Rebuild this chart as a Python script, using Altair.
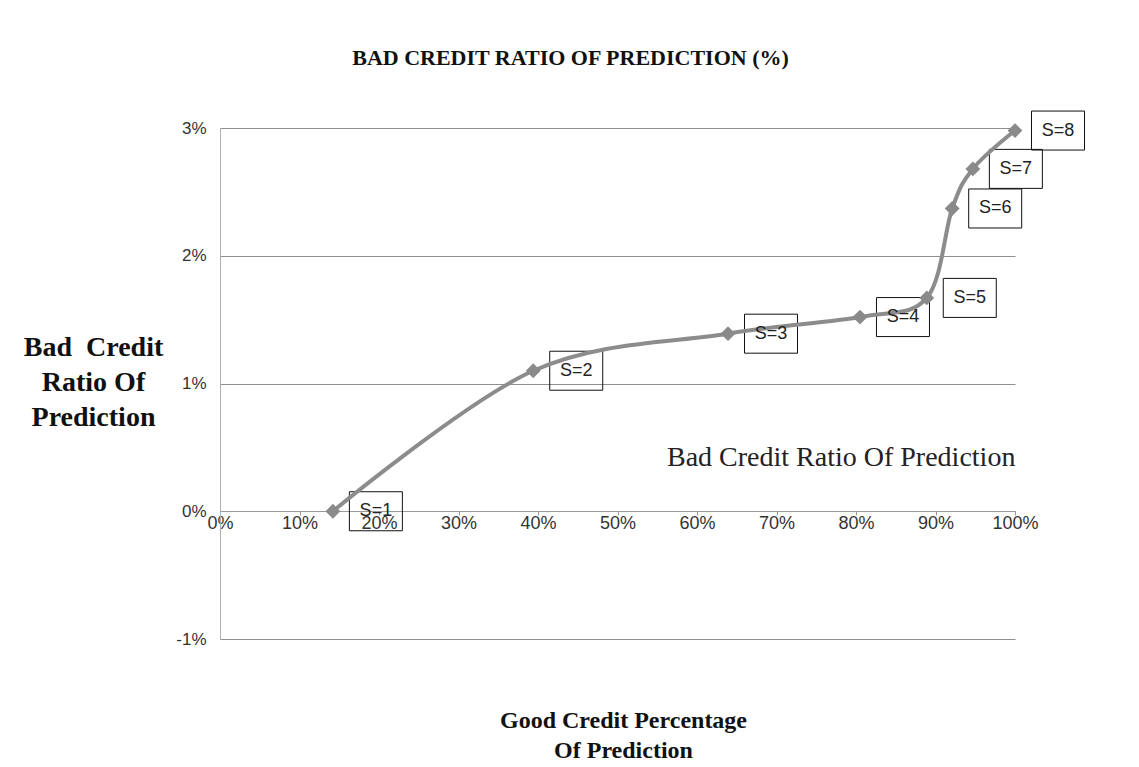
import altair as alt
import pandas as pd

# Data
labels = ["S=1", "S=2", "S=3", "S=4", "S=5", "S=6", "S=7", "S=8"]
good_pct = [0.142, 0.394, 0.639, 0.805, 0.889, 0.921, 0.947, 1.0]
bad_ratio = [0.0, 0.0110, 0.0139, 0.0152, 0.0167, 0.0237, 0.0268, 0.0298]
series_name = "Bad Credit Ratio Of Prediction"

df = pd.DataFrame({
    "label": labels,
    "good": good_pct,
    "bad": bad_ratio,
    "series": [series_name] * len(labels),
})

W, H = 795, 511
serif = "Liberation Serif"
sans = "Liberation Sans"

x_scale = alt.Scale(domain=[0, 1], nice=False)
y_scale = alt.Scale(domain=[-0.01, 0.03], nice=False)

x_axis = alt.Axis(
    values=[i / 10 for i in range(11)],
    format=".0%",
    offset=-128,
    grid=False,
    domainColor="#9a9a9a",
    tickColor="#9a9a9a",
    tickSize=4,
    labelFlush=False,
    labelFont=sans,
    labelFontSize=18,
    labelColor="#333333",
    labelPadding=-1,
    title=["Good Credit Percentage", "Of Prediction"],
    titleFont=serif,
    titleFontSize=24,
    titleFontWeight="bold",
    titleColor="#111111",
    titleLineHeight=30,
    titleAnchor="start",
    titleAlign="center",
    titleBaseline="middle",
    titleX=403,
    titleY=209,
)

y_axis = alt.Axis(
    values=[-0.01, 0.0, 0.01, 0.02, 0.03],
    labelExpr="replace(format(datum.value, '.0%'), '\u2212', '-')",
    grid=True,
    gridColor="#8f8f8f",
    gridWidth=1,
    domainColor="#b0b0b0",
    ticks=False,
    labelFont=sans,
    labelFontSize=17,
    labelColor="#333333",
    labelPadding=14,
    title=["Bad\u00a0 Credit", "Ratio Of", "Prediction"],
    titleFont=serif,
    titleFontSize=28,
    titleFontWeight="bold",
    titleColor="#111111",
    titleAngle=0,
    titleAlign="center",
    titleBaseline="middle",
    titleLineHeight=35,
    titleX=-127,
    titleY=219,
)

base = alt.Chart(df)

boxes = base.mark_point(
    shape="M-1,-0.736L1,-0.736L1,0.736L-1,0.736Z",
    size=53 * 53,
    filled=False,
    stroke="#111111",
    strokeWidth=1,
    opacity=1,
    xOffset=43,
).encode(
    x=alt.X("good:Q", scale=x_scale, axis=x_axis),
    y=alt.Y("bad:Q", scale=y_scale, axis=y_axis),
)

texts = base.mark_text(
    font=sans,
    fontSize=18,
    color="#222222",
    xOffset=43,
    align="center",
    baseline="middle",
).encode(
    x=alt.X("good:Q", scale=x_scale),
    y=alt.Y("bad:Q", scale=y_scale),
    text="label:N",
)

line = base.mark_line(
    interpolate="cardinal",
    tension=0,
    strokeWidth=4,
).encode(
    x=alt.X("good:Q", scale=x_scale),
    y=alt.Y("bad:Q", scale=y_scale),
    color=alt.Color(
        "series:N",
        scale=alt.Scale(range=["#8c8c8c"]),
        legend=alt.Legend(
            title=None,
            orient="none",
            legendX=419,
            legendY=316,
            symbolOpacity=0,
            symbolSize=0,
            symbolStrokeWidth=0,
            labelOffset=0,
            labelFont=serif,
            labelFontSize=28,
            labelColor="#222222",
            labelLimit=600,
        ),
    ),
)

points = base.mark_point(
    shape="diamond",
    filled=True,
    size=220,
    color="#8a8a8a",
    opacity=1,
).encode(
    x=alt.X("good:Q", scale=x_scale),
    y=alt.Y("bad:Q", scale=y_scale),
)

chart = alt.layer(boxes, line, points, texts).properties(
    width=W,
    height=H,
    background="white",
    autosize=alt.AutoSizeParams(type="none"),
    padding={"left": 212, "top": 120, "right": 116, "bottom": 128},
    title=alt.TitleParams(
        "BAD CREDIT RATIO OF PREDICTION (%)",
        font=serif,
        fontSize=22,
        fontWeight="bold",
        color="#111111",
        anchor="middle",
        dx=-47,
        offset=39,
    ),
).configure_view(stroke=None)

chart.save("out.html", embed_options={"renderer": "svg", "actions": False})
